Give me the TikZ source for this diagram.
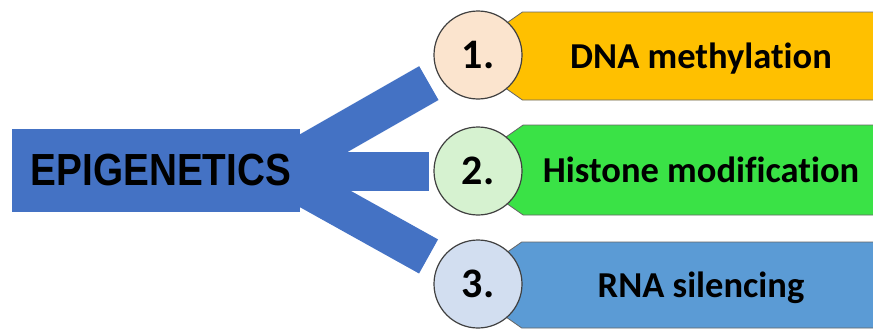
\documentclass[tikz,border=0pt]{standalone}
\usepackage{fontspec}
\usepackage{graphicx}
\setmainfont{Carlito}[Ligatures=NoCommon]
\newfontfamily\headfont{Liberation Sans}
\usetikzlibrary{shapes.symbols,backgrounds}
\definecolor{barblue}{RGB}{68,114,196}
\definecolor{dnagold}{RGB}{255,192,0}
\definecolor{histgreen}{RGB}{58,226,70}
\definecolor{rnablue}{RGB}{91,155,213}
\definecolor{numpeach}{RGB}{251,228,206}
\definecolor{numgreen}{RGB}{214,242,208}
\definecolor{numblue}{RGB}{210,222,240}

\begin{document}
\begin{tikzpicture}[x=1pt,y=-1pt,
  banner/.style={signal, signal to=west, signal pointer angle=70, draw=black!60,
    line width=0.8pt, minimum height=88pt, minimum width=420pt, inner sep=0pt,
    text depth=0pt, font=\fontsize{36.5}{40}\selectfont\bfseries},
  num/.style={circle, draw=black!75, line width=1.2pt, minimum size=88pt,
    inner sep=0pt, font=\fontsize{42}{46}\selectfont\bfseries},
  branch/.style={barblue, line width=39pt}]
  \useasboundingbox (0,0) rectangle (873,332);
  \clip (0,0) rectangle (873,332);
  \node[fill=barblue, minimum width=288pt, minimum height=83pt, inner sep=0pt] (epi) at (156,170.5)
    {\headfont\fontsize{45}{50}\selectfont\bfseries\kern10pt\scalebox{0.86}[1]{EPIGENETICS}};
  \node[banner, fill=dnagold] (dna) at (701,56) {DNA methylation};
  \node[banner, fill=histgreen, minimum height=90pt] (hist) at (701,170) {Histone modification};
  \node[banner, fill=rnablue, minimum height=86pt] (rna) at (701,285) {RNA silencing};
  \node[num, fill=numpeach] (n1) at (478,55) {1.};
  \node[num, fill=numgreen] (n2) at (478,171) {2.};
  \node[num, fill=numblue] (n3) at (478,284) {3.};
  \coordinate (hub) at (275,171);
  \begin{scope}[on background layer]
    \draw[branch, shorten >=12pt] (hub) -- (n1);
    \draw[branch, shorten >=4pt] (hub) -- (n2);
    \draw[branch, shorten >=12pt] (hub) -- (n3);
  \end{scope}
\end{tikzpicture}
\end{document}
